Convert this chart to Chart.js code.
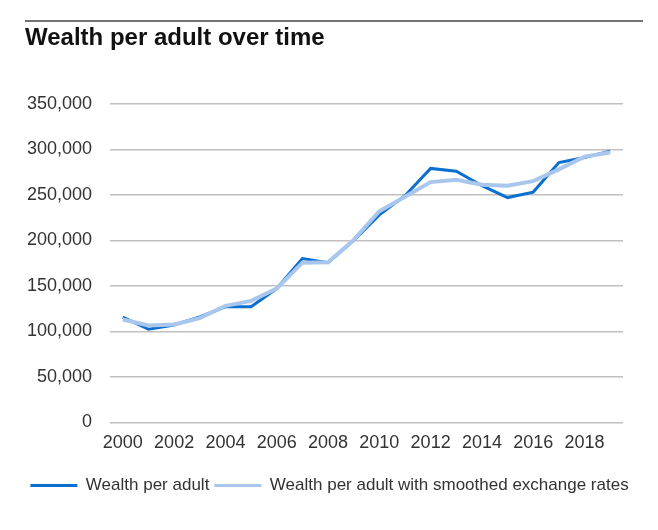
<!DOCTYPE html>
<html>
<head>
<meta charset="utf-8">
<script src="https://cdn.jsdelivr.net/npm/chart.js@4/dist/chart.umd.min.js"></script>
<style>
  html, body { margin: 0; padding: 0; background: #ffffff; }
  #wrap { position: relative; width: 658px; height: 530px; }
</style>
</head>
<body>
<div id="wrap"><canvas id="c" width="658" height="530"></canvas></div>
<script>
const titleText = "Wealth per adult over time";
const years = ["2000","2001","2002","2003","2004","2005","2006","2007","2008","2009",
               "2010","2011","2012","2013","2014","2015","2016","2017","2018","2019"];
const seriesNames = ["Wealth per adult", "Wealth per adult with smoothed exchange rates"];
const wealthPerAdult = [115600, 102300, 107000, 116000, 127000, 127000, 147000, 180000, 175500, 200000,
                        228000, 249000, 279000, 276000, 260000, 247000, 253000, 285500, 291000, 298000];
const wealthSmoothed = [113000, 106500, 107500, 114500, 128000, 133500, 147000, 175500, 176000, 200500,
                        232000, 248000, 264000, 266500, 261000, 260000, 265000, 278000, 292000, 296500];
const yTicks = [0, 50000, 100000, 150000, 200000, 250000, 300000, 350000];

const DARK = "#0B6FD0";
const LIGHT = "#A9C7EC";
const FONT = "'Liberation Sans', Arial, Helvetica, sans-serif";

const topRule = {
  id: "topRule",
  afterDraw(chart) {
    const ctx = chart.ctx;
    ctx.save();
    ctx.strokeStyle = "#444444";
    ctx.lineWidth = 1.5;
    ctx.beginPath();
    ctx.moveTo(25, 21);
    ctx.lineTo(643, 21);
    ctx.stroke();
    ctx.restore();
  }
};

new Chart(document.getElementById("c"), {
  type: "line",
  data: {
    labels: years,
    datasets: [
      { label: seriesNames[0], data: wealthPerAdult, borderColor: DARK, backgroundColor: DARK,
        borderWidth: 3, pointRadius: 0, tension: 0, order: 1, yAxisID: "y" },
      { label: seriesNames[1], data: wealthSmoothed, borderColor: LIGHT, backgroundColor: LIGHT,
        borderWidth: 4, pointRadius: 0, tension: 0, order: 0, yAxisID: "y" }
    ]
  },
  options: {
    responsive: false,
    animation: false,
    devicePixelRatio: 1,
    layout: { padding: { left: 25, right: 24, top: 0, bottom: 26 } },
    plugins: {
      tooltip: { enabled: false },
      title: {
        display: true, text: titleText, align: "start", color: "#111111",
        font: { family: FONT, size: 24, weight: "bold" },
        padding: { top: 24, bottom: 51 }
      },
      legend: {
        position: "bottom",
        labels: {
          color: "#333333",
          font: { family: FONT, size: 17 },
          boxWidth: 47, boxHeight: 3, padding: 5,
          generateLabels(chart) {
            return chart.data.datasets.map((ds, i) => ({
              text: ds.label, fillStyle: ds.borderColor, strokeStyle: ds.borderColor,
              lineWidth: 0, hidden: false, datasetIndex: i, fontColor: "#333333"
            }));
          }
        }
      }
    },
    scales: {
      x: {
        type: "category",
        offset: true,
        grid: { display: false, drawTicks: false },
        border: { display: false },
        ticks: {
          color: "#333333", font: { family: FONT, size: 18 }, padding: 10,
          autoSkip: false, maxRotation: 0, minRotation: 0,
          callback(value, index) { return index % 2 === 0 ? years[index] : ""; }
        },
        afterFit(scale) { scale.height += 8; }
      },
      y: {
        min: 0, max: 350000,
        grid: { color: "#C0C0C0", lineWidth: 1.5, drawTicks: false },
        border: { display: false },
        afterBuildTicks(scale) { scale.ticks = yTicks.map(v => ({ value: v })); },
        ticks: {
          color: "#333333", font: { family: FONT, size: 18 }, padding: 18,
          callback(value) { return value.toLocaleString("en-US"); }
        },
        afterFit(scale) { scale.width = 85; }
      },
      yRightSpace: {
        type: "linear",
        position: "right",
        display: true,
        grid: { display: false, drawTicks: false },
        border: { display: false },
        ticks: { display: false },
        afterFit(scale) { scale.width = 11; }
      }
    }
  },
  plugins: [topRule]
});
</script>
</body>
</html>
